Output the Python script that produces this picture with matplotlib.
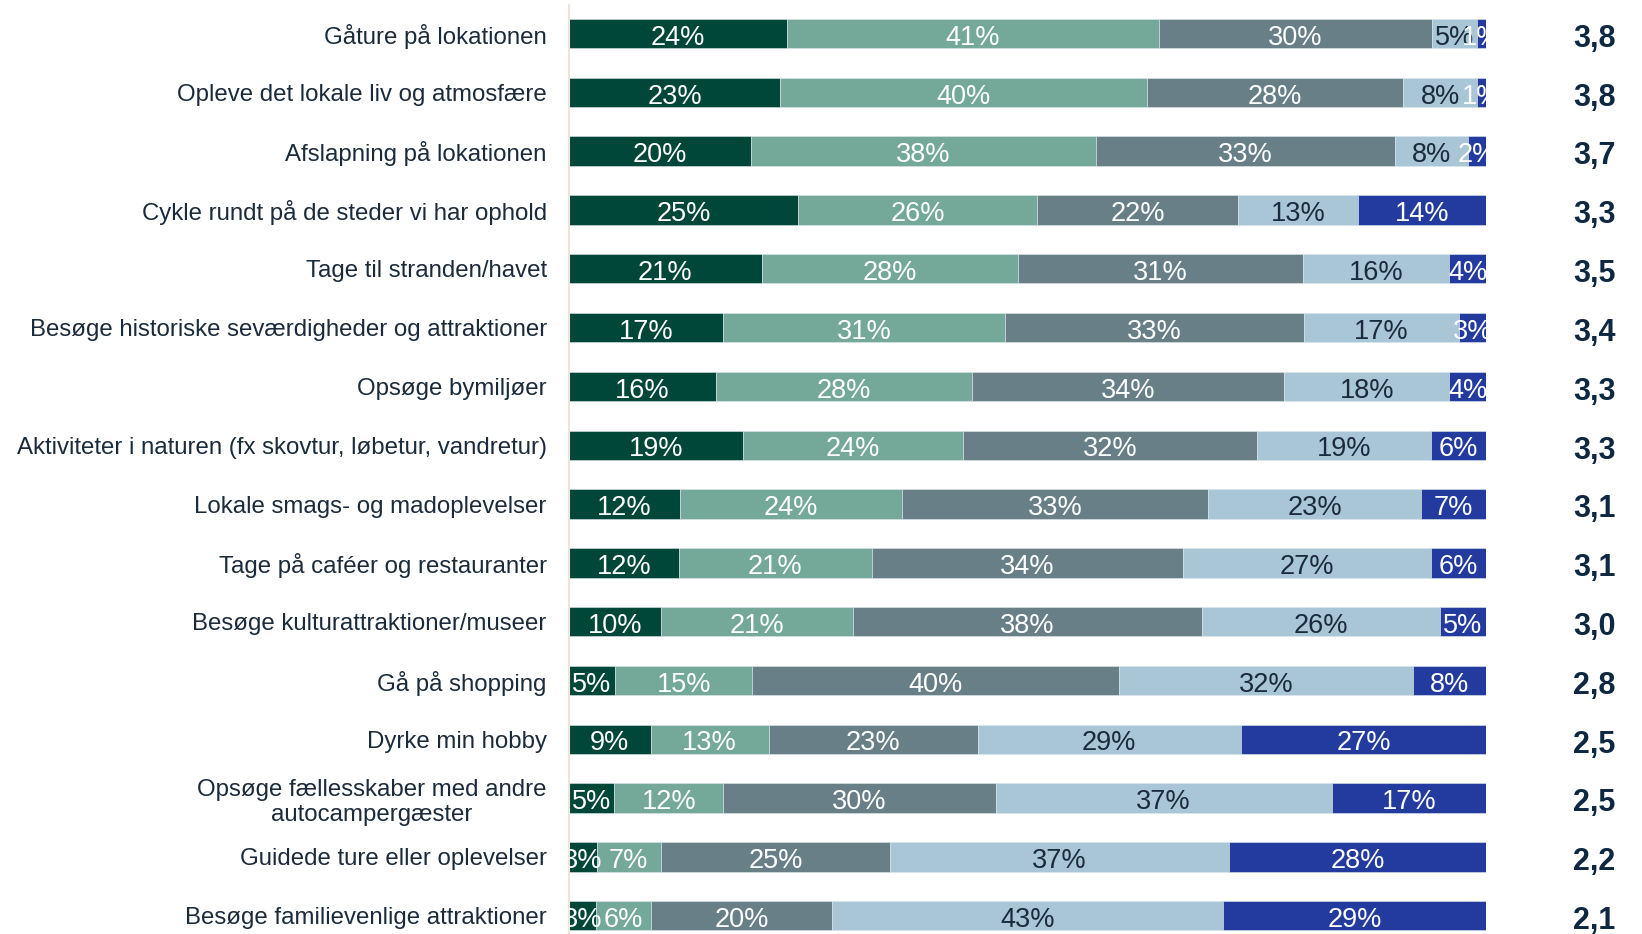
"""
Stacked 100% bar chart of activity interest with mean score at the right.
"""
import matplotlib
matplotlib.use("Agg")
import matplotlib.pyplot as plt
import matplotlib.transforms as mtransforms
import numpy as np

plt.rcParams["font.family"] = ["Liberation Sans", "DejaVu Sans"]

categories = [
    "Gåture på lokationen",
    "Opleve det lokale liv og atmosfære",
    "Afslapning på lokationen",
    "Cykle rundt på de steder vi har ophold",
    "Tage til stranden/havet",
    "Besøge historiske seværdigheder og attraktioner",
    "Opsøge bymiljøer",
    "Aktiviteter i naturen (fx skovtur, løbetur, vandretur)",
    "Lokale smags- og madoplevelser",
    "Tage på caféer og restauranter",
    "Besøge kulturattraktioner/museer",
    "Gå på shopping",
    "Dyrke min hobby",
    "Opsøge fællesskaber med andre\nautocampergæster",
    "Guidede ture eller oplevelser",
    "Besøge familievenlige attraktioner",
]

# share of answers per level (percent), best level first
level1 = [24, 23, 20, 25, 21, 17, 16, 19, 12, 12, 10, 5, 9, 5, 3, 3]
level2 = [41, 40, 38, 26, 28, 31, 28, 24, 24, 21, 21, 15, 13, 12, 7, 6]
level3 = [30, 28, 33, 22, 31, 33, 34, 32, 33, 34, 38, 40, 23, 30, 25, 20]
level4 = [5, 8, 8, 13, 16, 17, 18, 19, 23, 27, 26, 32, 29, 37, 37, 43]
level5 = [1, 1, 2, 14, 4, 3, 4, 6, 7, 6, 5, 8, 27, 17, 28, 29]
scores = [3.8, 3.8, 3.7, 3.3, 3.5, 3.4, 3.3, 3.3, 3.1, 3.1, 3.0, 2.8, 2.5, 2.5, 2.2, 2.1]

COLOURS = ["#00473A", "#74A99A", "#687F88", "#A8C6D6", "#233B9E"]
LABEL_COLOURS = ["white", "white", "white", "#1A2B3C", "white"]
TEXT_DARK = "#1A2B3C"

levels = np.array([level1, level2, level3, level4, level5], dtype=float)
shares = levels / levels.sum(axis=0)
y = np.arange(len(categories))

fig = plt.figure(figsize=(16.42, 9.34), dpi=100)
ax = fig.add_axes([569 / 1642, 0, 917 / 1642, 929 / 934])

left = np.zeros(len(categories))
for k in range(5):
    ax.barh(y, shares[k], left=left, height=0.5, color=COLOURS[k],
            edgecolor="#DDE6EC", linewidth=0.4)
    left += shares[k]

left = np.zeros(len(categories))
for k in range(5):
    for i in range(len(categories)):
        ax.text(left[i] + shares[k, i] / 2, y[i] + 0.02, f"{int(levels[k, i])}%",
                ha="center", va="center_baseline", fontsize=19.5,
                color=LABEL_COLOURS[k], clip_on=True)
    left += shares[k]

trans = mtransforms.blended_transform_factory(ax.transAxes, ax.transData)
for i, s in enumerate(scores):
    ax.text(1.118, y[i] + 0.03, f"{s:.1f}".replace(".", ","), transform=trans,
            ha="center", va="center_baseline", fontsize=22, fontweight="bold",
            color="#0E2841", clip_on=False)

ax.set_xlim(0, 1)
ax.set_ylim(15.31, -0.485)
ax.set_yticks(y)
ax.set_yticklabels(categories, fontsize=17.3, color=TEXT_DARK,
                   multialignment="center")
ax.tick_params(axis="y", length=0, pad=16)
ax.set_xticks([])
for side in ["top", "right", "bottom"]:
    ax.spines[side].set_visible(False)
ax.spines["left"].set_color("#EDE5D8")
ax.spines["left"].set_linewidth(1.5)

fig.savefig("out.png", dpi=100)
plt.close(fig)
